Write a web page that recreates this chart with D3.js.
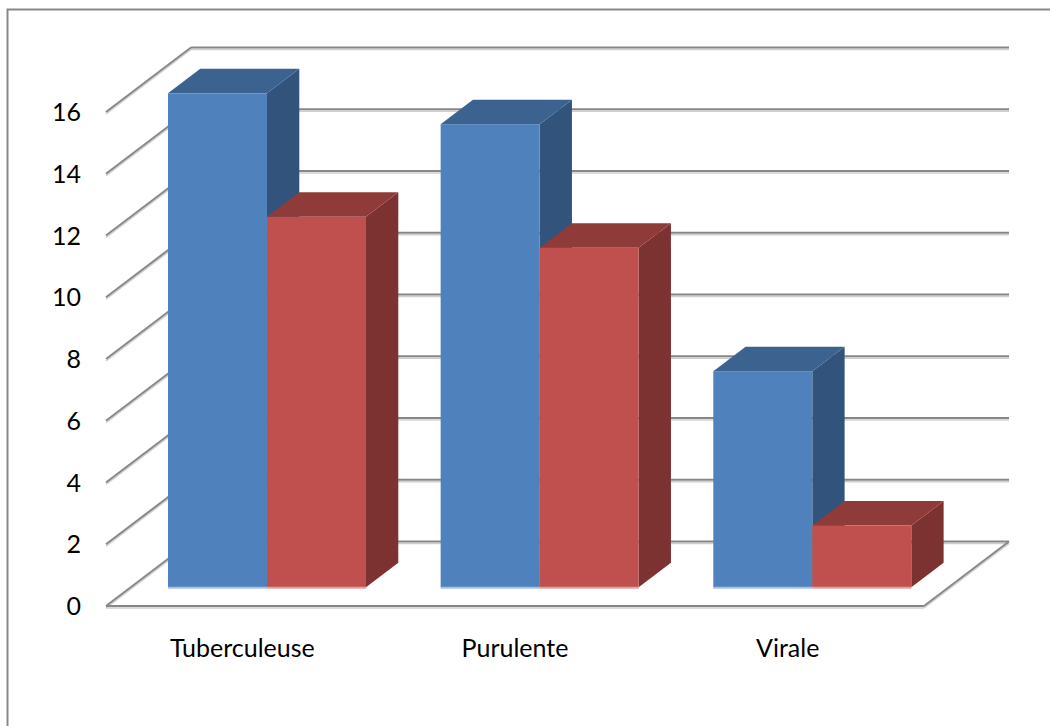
<!DOCTYPE html>
<html>
<head>
<meta charset="utf-8">
<script src="https://cdn.jsdelivr.net/npm/d3@7"></script>
<style>
  html, body { margin: 0; padding: 0; background: #fff; }
  svg text { font-family: Lato, "Open Sans", sans-serif; fill: #000; }
</style>
</head>
<body>
<svg id="chart" width="1050" height="726"></svg>
<script>
// chart data
const categories = ["Tuberculeuse", "Purulente", "Virale"];
const series1 = [16, 15, 7];
const series2 = [12, 11, 2];
const yTicks = [0, 2, 4, 6, 8, 10, 12, 14, 16];

const svg = d3.select("#chart");

// depth offset of the 3d box (back wall vs front plane)
const DX = 85, DY = 64.5;
const D0 = 0.29, D1 = 0.67; // depth span of the columns

const x = d3.scaleBand().domain(categories).range([106, 924]);
const xs = d3.scaleBand().domain([0, 1]).range([0, x.bandwidth()]).paddingOuter(0.377);
const y = d3.scaleLinear().domain([0, 16]).range([606, 112]);

const P = (px, v, d) => [px + d * DX, y(v) - d * DY];

// outer border (only left + top fall inside the picture)
svg.append("rect")
    .attr("x", 7.5).attr("y", 9.5)
    .attr("width", 1100).attr("height", 800)
    .attr("fill", "none")
    .attr("stroke", "#878787")
    .attr("stroke-width", 2);

const grid = svg.append("g");

function gridLine(x1, y1, x2, y2) {
    grid.append("line")
        .attr("x1", x1).attr("y1", y1 + 2).attr("x2", x2).attr("y2", y2 + 2)
        .attr("stroke", "#cfcfcf").attr("stroke-width", 1.5);
    grid.append("line")
        .attr("x1", x1).attr("y1", y1).attr("x2", x2).attr("y2", y2)
        .attr("stroke", "#878787").attr("stroke-width", 2);
}

const [x0, x1] = x.range();

// back wall horizontals + left side diagonals
yTicks.forEach(t => {
    const a = P(x0, t, 0), b = P(x0, t, 1), c = P(x1, t, 1);
    gridLine(b[0], b[1], c[0], c[1]);
    gridLine(a[0], a[1], b[0], b[1]);
});

// floor front edge and right edge
{
    const a = P(x0, 0, 0), b = P(x1, 0, 0), c = P(x1, 0, 1);
    gridLine(a[0], a[1], b[0], b[1]);
    gridLine(b[0], b[1], c[0], c[1]);
}

// y labels
svg.append("g").selectAll("text")
    .data(yTicks)
    .join("text")
    .attr("x", 81)
    .attr("y", d => y(d))
    .attr("dy", "0.36em")
    .attr("text-anchor", "end")
    .attr("font-size", 25)
    .text(d => d);

// category labels
svg.append("g").selectAll("text")
    .data(categories)
    .join("text")
    .attr("x", d => x(d) + x.bandwidth() / 2)
    .attr("y", 657)
    .attr("text-anchor", "middle")
    .attr("font-size", 25)
    .text(d => d);

// columns
const styles = [
    { front: "#4f81bd", top: "#3c6390", side: "#32547c", base: "#a9c0de" },
    { front: "#c0504d", top: "#8f3b39", side: "#7b3230", base: "#dca3a2" }
];

const bars = [];
categories.forEach((c, i) => {
    [series1[i], series2[i]].forEach((v, s) => {
        bars.push({ cat: c, s, v });
    });
});

const barG = svg.append("g");
const poly = pts => pts.map(p => p.join(",")).join(" ");

bars.forEach(b => {
    const st = styles[b.s];
    const L = x(b.cat) + xs(b.s);
    const R = L + xs.bandwidth();
    const g = barG.append("g");
    // side face
    g.append("polygon")
        .attr("points", poly([P(R, 0, D0), P(R, 0, D1), P(R, b.v, D1), P(R, b.v, D0)]))
        .attr("fill", st.side);
    // top face
    g.append("polygon")
        .attr("points", poly([P(L, b.v, D0), P(L, b.v, D1), P(R, b.v, D1), P(R, b.v, D0)]))
        .attr("fill", st.top);
    // front face
    const f0 = P(L, b.v, D0), f1 = P(R, 0, D0);
    g.append("rect")
        .attr("x", f0[0]).attr("y", f0[1])
        .attr("width", f1[0] - f0[0]).attr("height", f1[1] - f0[1])
        .attr("fill", st.front);
    g.append("line")
        .attr("x1", f0[0]).attr("x2", f1[0])
        .attr("y1", f1[1] + 0.5).attr("y2", f1[1] + 0.5)
        .attr("stroke", st.base).attr("stroke-width", 2);
});
</script>
</body>
</html>
